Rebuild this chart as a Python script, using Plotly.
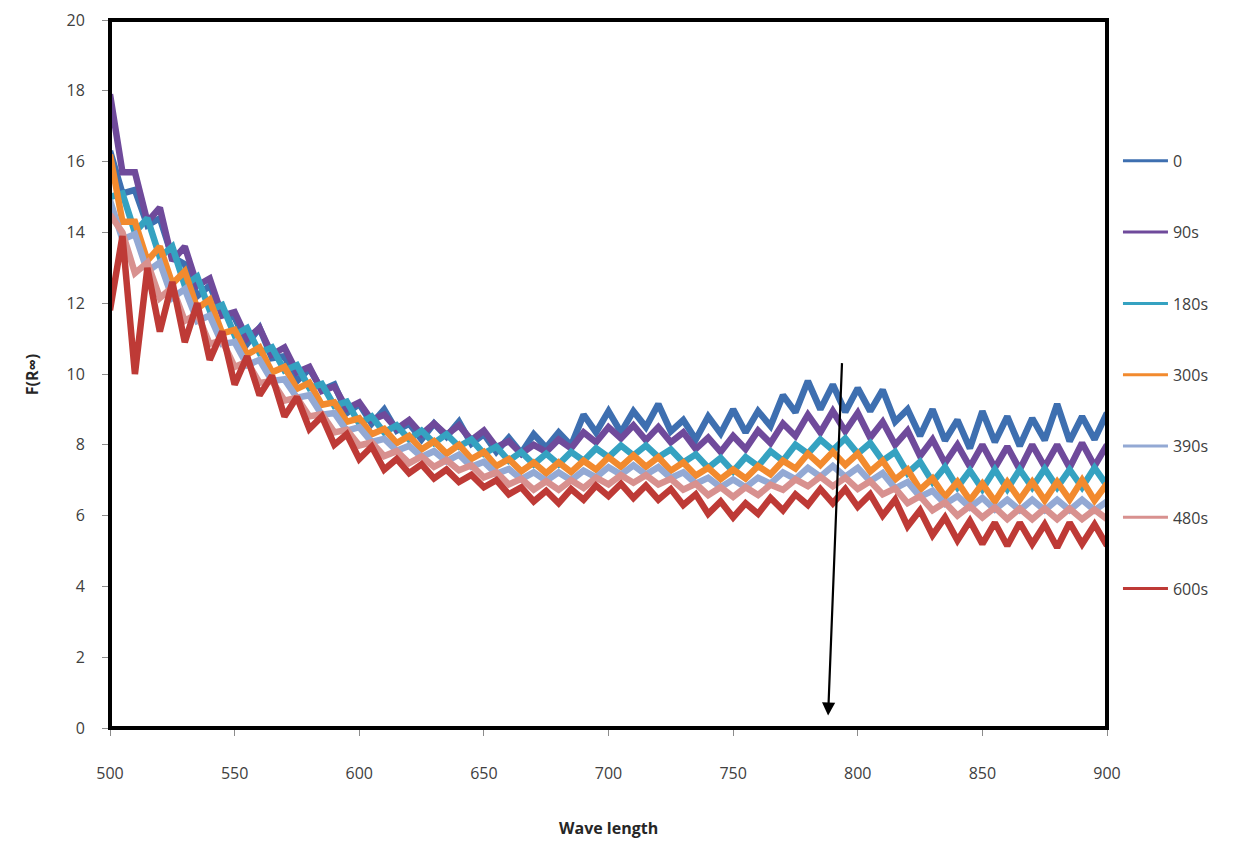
import plotly.graph_objects as go

wavelength = list(range(500, 901, 5))

s0 = [16.3, 15.1, 15.2, 14.2, 14.4, 13.3, 13.1, 12.2, 12.5, 11.7,
      11.6, 10.85, 11.3, 10.45, 10.5, 9.8, 10.15, 9.55, 9.7, 8.9,
      9.15, 8.6, 9.0, 8.4, 8.6, 8.15, 8.6, 8.23, 8.65, 8.03,
      8.3, 7.8, 8.2, 7.77, 8.3, 7.92, 8.35, 7.98, 8.85, 8.35,
      8.95, 8.35, 8.95, 8.5, 9.15, 8.38, 8.7, 8.15, 8.8, 8.32,
      9.0, 8.35, 8.95, 8.53, 9.4, 8.92, 9.8, 9.0, 9.7, 8.93,
      9.6, 8.95, 9.55, 8.65, 9.0, 8.25, 9.0, 8.12, 8.7, 7.9,
      8.95, 8.08, 8.8, 7.97, 8.75, 8.13, 9.15, 8.1, 8.8, 8.15, 8.9]
s90 = [17.9, 15.7, 15.7, 14.3, 14.7, 13.2, 13.6, 12.5, 12.7, 11.65,
       11.75, 11.0, 11.3, 10.55, 10.75, 10.05, 10.2, 9.52, 9.65, 9.02,
       9.2, 8.7, 8.85, 8.45, 8.7, 8.3, 8.6, 8.28, 8.55, 8.13,
       8.4, 7.93, 8.1, 7.75, 8.0, 7.8, 8.15, 7.9, 8.35, 8.07,
       8.5, 8.18, 8.55, 8.13, 8.5, 8.07, 8.35, 7.88, 8.2, 7.8,
       8.25, 7.88, 8.4, 8.05, 8.6, 8.25, 8.85, 8.35, 8.95, 8.38,
       8.9, 8.2, 8.65, 8.0, 8.4, 7.68, 8.15, 7.48, 8.0, 7.38,
       8.0, 7.35, 7.95, 7.3, 8.0, 7.38, 8.0, 7.35, 8.05, 7.4, 8.0]
s180 = [15.0, 15.1, 14.0, 14.4, 13.3, 13.6, 12.5, 12.75, 11.8, 11.95,
        11.1, 11.3, 10.6, 10.75, 10.1, 10.25, 9.6, 9.72, 9.1, 9.22,
        8.6, 8.8, 8.35, 8.55, 8.15, 8.4, 8.05, 8.3, 7.95, 8.15,
        7.75, 7.95, 7.55, 7.8, 7.45, 7.75, 7.45, 7.8, 7.55, 7.9,
        7.65, 7.98, 7.7, 7.98, 7.65, 7.87, 7.5, 7.73, 7.35, 7.63,
        7.25, 7.65, 7.4, 7.82, 7.55, 8.0, 7.75, 8.15, 7.85, 8.18,
        7.75, 8.05, 7.55, 7.8, 7.2, 7.52, 6.95, 7.37, 6.8, 7.27,
        6.75, 7.3, 6.75, 7.3, 6.8, 7.32, 6.8, 7.3, 6.8, 7.35, 6.85]
s300 = [16.2, 14.3, 14.3, 13.2, 13.6, 12.55, 12.9, 11.85, 12.1, 11.15,
        11.25, 10.55, 10.75, 10.05, 10.2, 9.58, 9.75, 9.13, 9.2, 8.65,
        8.75, 8.3, 8.45, 8.05, 8.25, 7.87, 8.1, 7.75, 8.0, 7.6,
        7.8, 7.4, 7.6, 7.25, 7.5, 7.2, 7.5, 7.23, 7.55, 7.3,
        7.65, 7.38, 7.7, 7.38, 7.65, 7.27, 7.5, 7.13, 7.35, 7.03,
        7.3, 7.05, 7.4, 7.17, 7.55, 7.33, 7.75, 7.43, 7.8, 7.43,
        7.75, 7.25, 7.55, 7.02, 7.3, 6.73, 7.05, 6.53, 6.95, 6.43,
        6.9, 6.4, 6.95, 6.45, 6.95, 6.43, 6.95, 6.45, 7.0, 6.43, 6.9]
s390 = [14.9, 13.8, 13.95, 12.9, 13.15, 12.15, 12.4, 11.5, 11.65, 10.85,
        10.9, 10.25, 10.4, 9.8, 9.85, 9.33, 9.4, 8.85, 8.9, 8.4,
        8.5, 8.08, 8.17, 7.83, 7.97, 7.66, 7.82, 7.53, 7.72, 7.38,
        7.52, 7.18, 7.32, 7.03, 7.22, 6.98, 7.22, 7.0, 7.27, 7.08,
        7.37, 7.16, 7.42, 7.16, 7.37, 7.06, 7.22, 6.9, 7.07, 6.8,
        7.02, 6.8, 7.07, 6.9, 7.22, 7.03, 7.35, 7.1, 7.4, 7.1,
        7.35, 6.97, 7.2, 6.77, 6.95, 6.53, 6.7, 6.33, 6.55, 6.23,
        6.5, 6.17, 6.45, 6.15, 6.45, 6.15, 6.45, 6.15, 6.45, 6.15, 6.4]
s480 = [14.5, 14.0, 12.85, 13.15, 12.15, 12.45, 11.5, 11.7, 10.85, 10.95,
        10.2, 10.35, 9.75, 9.8, 9.25, 9.33, 8.8, 8.87, 8.35, 8.42,
        7.98, 8.07, 7.68, 7.82, 7.48, 7.67, 7.38, 7.57, 7.28, 7.42,
        7.08, 7.22, 6.88, 7.04, 6.73, 6.97, 6.73, 7.0, 6.78, 7.07,
        6.88, 7.14, 6.93, 7.14, 6.88, 7.04, 6.73, 6.9, 6.58, 6.8,
        6.53, 6.8, 6.58, 6.87, 6.73, 7.02, 6.83, 7.1, 6.83, 7.07,
        6.75, 6.97, 6.6, 6.77, 6.35, 6.55, 6.15, 6.37, 6.0, 6.27,
        5.95, 6.23, 5.9, 6.2, 5.9, 6.2, 5.9, 6.2, 5.9, 6.17, 5.9]
s600 = [11.8, 13.9, 10.0, 13.0, 11.2, 12.6, 10.9, 12.0, 10.4, 11.2,
        9.7, 10.5, 9.4, 9.95, 8.8, 9.35, 8.45, 8.8, 8.0, 8.3,
        7.6, 7.95, 7.3, 7.6, 7.2, 7.45, 7.05, 7.3, 6.95, 7.15,
        6.8, 7.0, 6.6, 6.8, 6.4, 6.7, 6.35, 6.75, 6.45, 6.85,
        6.55, 6.9, 6.5, 6.85, 6.45, 6.75, 6.3, 6.6, 6.05, 6.4,
        5.95, 6.35, 6.05, 6.5, 6.15, 6.6, 6.3, 6.75, 6.35, 6.75,
        6.25, 6.6, 6.0, 6.45, 5.7, 6.15, 5.45, 5.95, 5.3, 5.85,
        5.2, 5.8, 5.15, 5.8, 5.2, 5.75, 5.1, 5.8, 5.2, 5.75, 5.15]

series_names = ["0", "90s", "180s", "300s", "390s", "480s", "600s"]
series_values = [s0, s90, s180, s300, s390, s480, s600]
series_colors = ["#3E6FB0", "#6F4A9B", "#35A2C1", "#F28A2E", "#93A9D4", "#D8918F", "#BE3A36"]

x_ticks = [500, 550, 600, 650, 700, 750, 800, 850, 900]
y_ticks = [0, 2, 4, 6, 8, 10, 12, 14, 16, 18, 20]

arrow_start = (793.7, 10.35)
arrow_end = (788.1, 0.35)

fig = go.Figure()
for i, (name, vals, col) in enumerate(zip(series_names, series_values, series_colors)):
    fig.add_trace(go.Scatter(
        x=wavelength, y=vals, mode="lines", name=name,
        line=dict(color=col, width=6.5), showlegend=False,
    ))
for i, (name, col) in enumerate(zip(series_names, series_colors)):
    fig.add_trace(go.Scatter(
        x=[None], y=[None], mode="lines", name=name,
        line=dict(color=col, width=3), legendgroup=f"g{i}", showlegend=True,
    ))

font_family = "Open Sans, Liberation Sans, sans-serif"

fig.update_layout(
    width=1231, height=833,
    margin=dict(l=102, r=132, t=12, b=113, autoexpand=False),
    paper_bgcolor="white", plot_bgcolor="white",
    showlegend=True,
    legend=dict(
        x=1.011, y=0.825, xanchor="left", yanchor="top",
        font=dict(family=font_family, size=16, color="#404040"),
        tracegroupgap=47.5, bgcolor="rgba(0,0,0,0)", itemwidth=45,
    ),
    xaxis=dict(
        range=[500, 900], tickvals=x_ticks, ticktext=[str(v) for v in x_ticks],
        ticks="outside", ticklen=7, tickcolor="#8c8c8c", automargin=False,
        showgrid=False, zeroline=False, showline=True, linecolor="#8c8c8c",
        tickfont=dict(family=font_family, size=16, color="#404040"),
        ticklabelstandoff=24,
    ),
    yaxis=dict(
        range=[0, 20], tickvals=y_ticks, ticktext=[str(v) for v in y_ticks],
        ticks="outside", ticklen=7, tickcolor="#8c8c8c", automargin=False,
        showgrid=False, zeroline=False, showline=True, linecolor="#8c8c8c",
        tickfont=dict(family=font_family, size=16, color="#404040"),
        ticklabelstandoff=14,
    ),
    shapes=[dict(type="rect", xref="paper", yref="paper", x0=0, y0=0, x1=1, y1=1,
                 line=dict(color="black", width=4), fillcolor="rgba(0,0,0,0)", layer="above")],
    annotations=[
        dict(x=arrow_end[0], y=arrow_end[1], ax=arrow_start[0], ay=arrow_start[1],
             xref="x", yref="y", axref="x", ayref="y", showarrow=True,
             arrowhead=2, arrowsize=1.2, arrowwidth=2.2, arrowcolor="black", text=""),
        dict(text="<b>Wave length</b>", xref="paper", yref="paper", x=0.5, y=-0.141,
             showarrow=False, xanchor="center", yanchor="middle",
             font=dict(family=font_family, size=16, color="#262626")),
        dict(text="<b>F(R∞)</b>", xref="paper", yref="paper", x=-0.078, y=0.5,
             showarrow=False, xanchor="center", yanchor="middle", textangle=-90,
             font=dict(family=font_family, size=16, color="#262626")),
    ],
)

fig.write_html("out.html")
